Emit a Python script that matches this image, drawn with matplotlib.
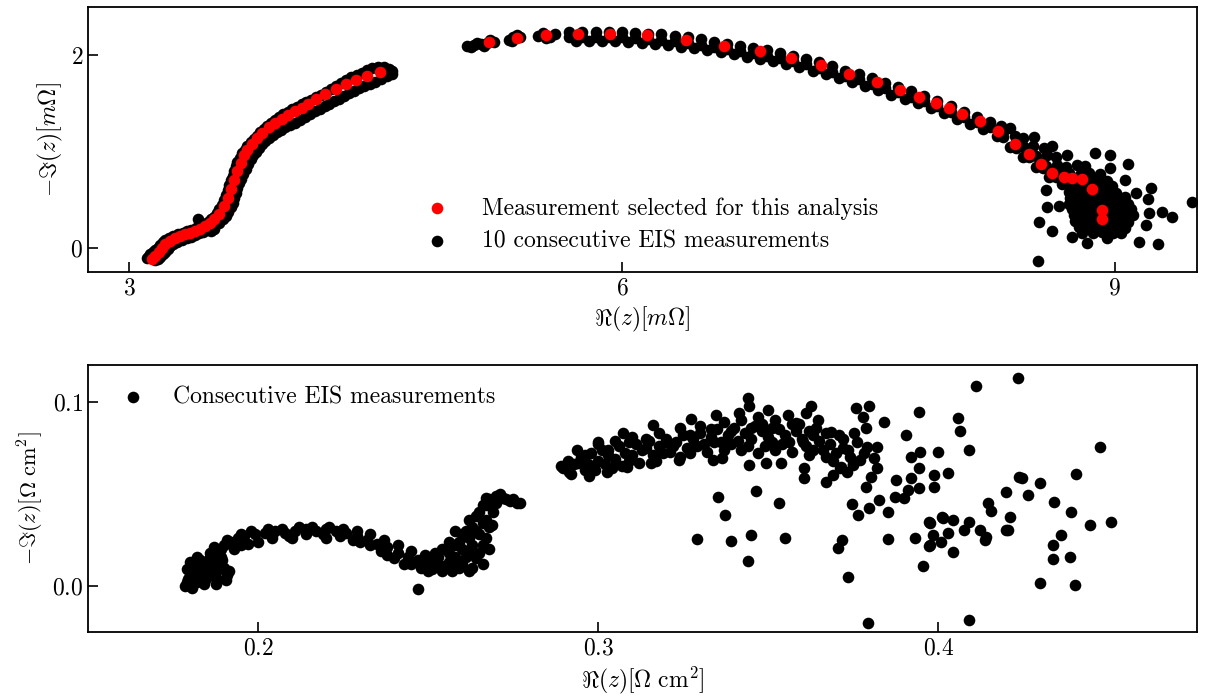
import numpy as np
import matplotlib
matplotlib.use("Agg")
import matplotlib.pyplot as plt
from matplotlib.ticker import MultipleLocator

plt.rcParams['font.family'] = 'serif'
plt.rcParams['font.serif'] = ['cmr10']
plt.rcParams['mathtext.fontset'] = 'cm'
plt.rcParams['axes.formatter.use_mathtext'] = True
plt.rcParams['font.size'] = 17

# top panel: selected measurement [mOhm]
sel_re = [3.14, 3.16, 3.18, 3.20, 3.22, 3.25, 3.28, 3.31, 3.34, 3.37, 3.40, 3.43, 3.46, 3.49,
          3.52, 3.55, 3.58, 3.60, 3.62, 3.64, 3.66, 3.68, 3.70, 3.72, 3.75, 3.78, 3.81, 3.85,
          3.89, 3.93, 3.97, 4.01, 4.05, 4.09, 4.14, 4.19, 4.26, 4.32, 4.38, 4.45, 4.53,
          5.19, 5.36, 5.54, 5.73, 5.93, 6.15, 6.39, 6.62, 6.84, 7.03, 7.21, 7.38, 7.55, 7.69,
          7.81, 7.91, 7.99, 8.07, 8.18, 8.29, 8.39, 8.48, 8.55, 8.62, 8.69, 8.74, 8.80, 8.86,
          8.92, 8.92]
sel_im = [-0.12, -0.08, -0.04, 0.00, 0.04, 0.07, 0.10, 0.12, 0.14, 0.16, 0.18, 0.20, 0.23, 0.26,
          0.30, 0.35, 0.44, 0.52, 0.61, 0.70, 0.80, 0.88, 0.96, 1.02, 1.08, 1.14, 1.19, 1.25,
          1.30, 1.34, 1.38, 1.42, 1.45, 1.49, 1.55, 1.60, 1.65, 1.70, 1.74, 1.78, 1.83,
          2.14, 2.18, 2.21, 2.22, 2.22, 2.21, 2.16, 2.10, 2.04, 1.97, 1.90, 1.80, 1.72, 1.64,
          1.57, 1.50, 1.45, 1.39, 1.32, 1.21, 1.08, 0.97, 0.87, 0.78, 0.74, 0.73, 0.72, 0.61,
          0.39, 0.30]

# top panel: 10 consecutive measurements [mOhm], low-frequency branch
low_re = [3.11, 3.13, 3.16, 3.19, 3.22, 3.27, 3.33, 3.38, 3.43, 3.48, 3.52, 3.55, 3.58, 3.60,
          3.62, 3.64, 3.66, 3.69, 3.72, 3.76, 3.80, 3.84, 3.89, 3.94, 3.99, 4.05, 4.11, 4.17,
          4.23, 4.29, 4.35, 4.42, 4.48, 4.55, 4.58,
          3.12, 3.145, 3.175, 3.205, 3.245, 3.30, 3.355, 3.405, 3.455, 3.50, 3.535, 3.565, 3.59,
          3.61, 3.63, 3.65, 3.675, 3.705, 3.74, 3.78, 3.82, 3.865, 3.915, 3.965, 4.02, 4.08,
          4.14, 4.20, 4.26, 4.32, 4.385, 4.45, 4.515, 4.60,
          3.16, 3.19, 3.22, 3.25, 3.29, 3.35, 3.40, 3.45, 3.50, 3.55, 3.59, 3.62, 3.64, 3.66,
          3.68, 3.71, 3.74, 3.77, 3.81, 3.85, 3.90, 3.95, 4.01, 4.07, 4.13, 4.19, 4.25, 4.31,
          4.37, 4.43, 4.50, 4.57, 4.58, 3.42, 3.50, 3.52,
          3.175, 3.205, 3.235, 3.27, 3.32, 3.375, 3.425, 3.475, 3.525, 3.57, 3.605, 3.63, 3.65,
          3.67, 3.695, 3.725, 3.755, 3.79, 3.83, 3.875, 3.925, 3.98, 4.04, 4.10, 4.16, 4.22,
          4.28, 4.34, 4.40, 4.465, 4.535, 4.60]
low_im = [-0.10, -0.06, -0.02, 0.03, 0.08, 0.12, 0.16, 0.19, 0.22, 0.27, 0.32, 0.40, 0.50, 0.60,
          0.70, 0.80, 0.89, 0.98, 1.06, 1.13, 1.20, 1.27, 1.33, 1.39, 1.44, 1.49, 1.54, 1.59,
          1.65, 1.71, 1.77, 1.82, 1.87, 1.88, 1.86,
          -0.08, -0.04, 0.00, 0.06, 0.10, 0.14, 0.175, 0.205, 0.245, 0.295, 0.36, 0.45, 0.55,
          0.65, 0.75, 0.845, 0.935, 1.02, 1.095, 1.165, 1.235, 1.30, 1.36, 1.415, 1.465, 1.515,
          1.565, 1.62, 1.68, 1.74, 1.795, 1.845, 1.875, 1.84,
          -0.13, -0.09, -0.04, 0.02, 0.06, 0.10, 0.13, 0.17, 0.21, 0.26, 0.33, 0.42, 0.52, 0.62,
          0.72, 0.82, 0.92, 1.00, 1.08, 1.14, 1.20, 1.25, 1.30, 1.36, 1.42, 1.47, 1.52, 1.58,
          1.63, 1.68, 1.72, 1.78, 1.82, 0.30, 0.18, 0.20,
          -0.11, -0.065, -0.01, 0.04, 0.08, 0.115, 0.15, 0.19, 0.235, 0.295, 0.375, 0.47, 0.57,
          0.67, 0.77, 0.87, 0.96, 1.04, 1.11, 1.17, 1.225, 1.275, 1.33, 1.39, 1.445, 1.495,
          1.55, 1.605, 1.655, 1.70, 1.75, 1.80]

# top panel: 10 consecutive measurements, high-frequency arc
arc_re = [5.06, 5.10, 5.14, 5.18, 5.22, 5.08, 5.16, 5.12, 5.20,
          5.31, 5.34, 5.38, 5.33, 5.36,
          5.49, 5.52, 5.56, 5.59, 5.54,
          5.68, 5.76, 5.84, 5.92, 6.00, 6.08, 6.16, 6.24, 6.32, 6.40, 6.48, 6.56, 6.64, 6.72,
          6.80, 6.88, 6.96, 7.04, 7.12, 7.20, 7.28, 7.36, 7.44, 7.52, 7.60, 7.68, 7.76, 7.84,
          7.92, 8.00, 8.08, 8.16, 8.24, 8.32, 8.40, 8.48, 8.56, 8.64,
          5.68, 5.76, 5.84, 5.92, 6.00, 6.08, 6.16, 6.24, 6.32, 6.40, 6.48, 6.56, 6.64, 6.72,
          6.80, 6.88, 6.96, 7.04, 7.12, 7.20, 7.28, 7.36, 7.44, 7.52, 7.60, 7.68, 7.76, 7.84,
          7.92, 8.00, 8.08, 8.16, 8.24, 8.32, 8.40, 8.48, 8.56, 8.64,
          5.72, 5.80, 5.88, 5.96, 6.04, 6.12, 6.20, 6.28, 6.36, 6.44, 6.52, 6.60, 6.68, 6.76,
          6.84, 6.92, 7.00, 7.08, 7.16, 7.24, 7.32, 7.40, 7.48, 7.56, 7.64, 7.72, 7.80, 7.88,
          7.96, 8.04, 8.12, 8.20, 8.28, 8.36, 8.44, 8.52, 8.60, 8.68]
arc_im = [2.10, 2.11, 2.12, 2.13, 2.14, 2.08, 2.10, 2.13, 2.16,
          2.16, 2.19, 2.19, 2.15, 2.21,
          2.20, 2.23, 2.19, 2.22, 2.18,
          2.245, 2.245, 2.245, 2.245, 2.245, 2.235, 2.225, 2.215, 2.20, 2.185, 2.165, 2.14, 2.12,
          2.095, 2.075, 2.05, 2.025, 1.995, 1.96, 1.925, 1.885, 1.84, 1.805, 1.76, 1.715, 1.67,
          1.625, 1.58, 1.525, 1.47, 1.41, 1.36, 1.305, 1.205, 1.095, 0.995, 0.885, 0.795,
          2.19, 2.19, 2.19, 2.19, 2.19, 2.18, 2.17, 2.16, 2.145, 2.13, 2.11, 2.085, 2.065,
          2.04, 2.02, 1.995, 1.97, 1.94, 1.905, 1.87, 1.83, 1.785, 1.75, 1.705, 1.66, 1.615,
          1.57, 1.525, 1.47, 1.415, 1.355, 1.305, 1.25, 1.15, 1.04, 0.94, 0.83, 0.74,
          2.145, 2.145, 2.145, 2.145, 2.14, 2.13, 2.12, 2.105, 2.09, 2.075, 2.05, 2.03, 2.01,
          1.985, 1.96, 1.935, 1.91, 1.875, 1.84, 1.805, 1.76, 1.72, 1.68, 1.635, 1.59, 1.545,
          1.50, 1.45, 1.395, 1.34, 1.285, 1.23, 1.16, 1.05, 0.945, 0.84, 0.74, 0.66]

# top panel: scattered end of the arc
blob_re = [8.31, 8.36, 8.39, 8.44, 8.51, 8.45, 8.50, 8.57, 8.62, 8.52, 8.59, 8.64, 8.71,
           8.58, 8.65, 8.70, 8.77, 8.82, 8.66, 8.72, 8.79, 8.84, 8.91,
           8.74, 8.79, 8.82, 8.87, 8.90, 8.95, 8.73, 8.77, 8.82, 8.85, 8.90, 8.93, 8.98,
           8.72, 8.76, 8.81, 8.84, 8.89, 8.92, 8.96, 9.01, 8.73, 8.78, 8.81, 8.86, 8.89, 8.94,
           8.97, 9.01, 9.06, 8.72, 8.77, 8.80, 8.85, 8.88, 8.92, 8.97, 9.00, 9.05, 9.08,
           8.74, 8.79, 8.82, 8.87, 8.90, 8.95, 8.98, 9.03, 9.06, 9.10,
           8.75, 8.80, 8.83, 8.88, 8.91, 8.96, 8.99, 9.04, 9.07, 9.11,
           8.76, 8.81, 8.84, 8.89, 8.92, 8.97, 9.00, 9.05, 9.08,
           8.78, 8.83, 8.86, 8.91, 8.94, 8.99, 9.02, 9.06, 8.80, 8.87, 8.92, 8.99, 9.04,
           8.53, 8.97, 9.08, 9.06, 9.13, 9.22, 9.20, 9.21, 9.29, 9.35, 9.47, 9.19, 9.15, 9.26,
           8.58, 8.59, 8.66, 8.54, 8.62, 8.74, 8.83, 8.95, 8.88, 8.97]
blob_im = [1.26, 1.24, 1.16, 1.14, 1.15, 1.05, 1.06, 1.04, 1.06, 0.95, 0.96, 0.94, 0.96,
           0.85, 0.86, 0.84, 0.86, 0.85, 0.77, 0.78, 0.76, 0.78, 0.77,
           0.70, 0.71, 0.69, 0.70, 0.71, 0.69, 0.64, 0.63, 0.65, 0.64, 0.63, 0.65, 0.64,
           0.58, 0.57, 0.59, 0.58, 0.57, 0.59, 0.58, 0.57, 0.52, 0.51, 0.53, 0.52, 0.51, 0.53,
           0.52, 0.51, 0.53, 0.46, 0.45, 0.47, 0.46, 0.45, 0.47, 0.46, 0.45, 0.47, 0.46,
           0.40, 0.41, 0.39, 0.40, 0.41, 0.39, 0.40, 0.41, 0.39, 0.40,
           0.34, 0.33, 0.35, 0.34, 0.33, 0.35, 0.34, 0.33, 0.35, 0.34,
           0.28, 0.29, 0.27, 0.28, 0.29, 0.27, 0.28, 0.29, 0.27,
           0.22, 0.21, 0.23, 0.22, 0.21, 0.23, 0.22, 0.21, 0.16, 0.15, 0.17, 0.16, 0.15,
           -0.14, 0.96, 0.87, 0.70, 0.57, 0.62, 0.51, 0.36, 0.37, 0.32, 0.48, 0.24, 0.06, 0.04,
           0.60, 0.42, 0.43, 0.27, 0.18, 0.11, 0.05, 0.10, 0.98, 0.83]

# bottom panel: consecutive measurements [Ohm cm2]
cons_re = [0.179, 0.180, 0.181, 0.182, 0.183, 0.184, 0.185, 0.186, 0.187, 0.188, 0.189, 0.190,
           0.191, 0.182, 0.184,
           0.1785, 0.1795, 0.1805, 0.1815, 0.1825, 0.1835, 0.1845, 0.1855, 0.1865, 0.1875,
           0.1885, 0.1895, 0.1905, 0.1915, 0.1800, 0.1820, 0.1790,
           0.186, 0.188, 0.190, 0.192, 0.194, 0.196, 0.199, 0.202, 0.205, 0.208, 0.211, 0.214,
           0.217, 0.220, 0.223, 0.226, 0.229, 0.232, 0.235, 0.238, 0.241, 0.244, 0.247, 0.250,
           0.253, 0.256, 0.258, 0.260, 0.262, 0.263, 0.264, 0.266, 0.268, 0.270, 0.272, 0.274,
           0.276,
           0.187, 0.191, 0.195, 0.198, 0.203, 0.207, 0.212, 0.216, 0.221, 0.225, 0.229, 0.233,
           0.237, 0.241, 0.245, 0.249, 0.253,
           0.189, 0.193, 0.197, 0.204, 0.209, 0.214, 0.219, 0.224, 0.228, 0.233, 0.236, 0.240,
           0.245, 0.251, 0.254,
           0.195, 0.200, 0.210, 0.220, 0.230, 0.238, 0.243, 0.248, 0.255, 0.260, 0.262, 0.259,
           0.261, 0.265, 0.266, 0.264, 0.257, 0.262, 0.267, 0.269, 0.2689, 0.2469,
           0.250, 0.252, 0.254, 0.256, 0.257, 0.258, 0.259, 0.260, 0.261, 0.262, 0.263, 0.263,
           0.264, 0.265, 0.265, 0.266, 0.266, 0.267, 0.267, 0.268, 0.268, 0.258, 0.256, 0.254,
           0.252,
           0.267, 0.269, 0.271, 0.273, 0.275, 0.277, 0.270,
           0.289, 0.291, 0.293, 0.295, 0.296, 0.298, 0.300, 0.301, 0.303, 0.304, 0.306, 0.308,
           0.309, 0.311, 0.313, 0.315, 0.316, 0.318, 0.320, 0.321, 0.323, 0.325, 0.326, 0.328,
           0.330, 0.331, 0.333, 0.335, 0.336, 0.338, 0.340, 0.341, 0.343, 0.345, 0.346, 0.348,
           0.350, 0.351, 0.353, 0.355, 0.356, 0.358, 0.360, 0.361, 0.363, 0.365, 0.366, 0.368,
           0.370, 0.372, 0.374, 0.375,
           0.292, 0.294, 0.297, 0.299, 0.302, 0.305, 0.307, 0.310, 0.312, 0.314, 0.317, 0.319,
           0.322, 0.324, 0.327, 0.329, 0.332, 0.334, 0.337, 0.339, 0.342, 0.344, 0.347, 0.349,
           0.352, 0.354, 0.357, 0.359, 0.362, 0.364, 0.367, 0.369, 0.371, 0.373, 0.300, 0.305,
           0.310, 0.318, 0.324, 0.330, 0.337, 0.342, 0.348, 0.352, 0.357, 0.362, 0.367, 0.372,
           0.376, 0.378,
           0.296, 0.303, 0.309, 0.314, 0.320, 0.327, 0.333, 0.339, 0.345, 0.351,
           0.2939, 0.2998, 0.3072, 0.3160, 0.3273, 0.3346, 0.3415, 0.3439, 0.3444, 0.3498,
           0.3469, 0.3557, 0.3611, 0.3626, 0.3645, 0.3581, 0.3684, 0.3709, 0.3758, 0.3795,
           0.3777, 0.3787, 0.3753, 0.3839, 0.3791, 0.3820, 0.3811, 0.3820, 0.3801, 0.3787,
           0.3768, 0.3733, 0.3748, 0.3713, 0.3689, 0.3670, 0.3606, 0.3606, 0.3630, 0.3601,
           0.3537, 0.3493, 0.3444, 0.3365, 0.3336, 0.3238, 0.3155, 0.3086, 0.3027, 0.2974,
           0.2915, 0.2895,
           0.3351, 0.3374, 0.3289, 0.3391, 0.3449, 0.3441, 0.3463, 0.3530, 0.3548, 0.3704,
           0.3717, 0.3733, 0.3793, 0.3746, 0.3763, 0.3797, 0.3826, 0.3851, 0.3851, 0.3875,
           0.3871, 0.3900, 0.3905, 0.3920, 0.3920, 0.3910, 0.3944, 0.3947, 0.3944, 0.3944,
           0.3932, 0.3954, 0.3974, 0.3974, 0.3998, 0.3988, 0.3988, 0.4013, 0.4008, 0.4027,
           0.4042, 0.4057, 0.4062, 0.4091, 0.4111, 0.4091, 0.4042, 0.4076, 0.4091, 0.4121,
           0.4140, 0.4145, 0.4199, 0.4204, 0.4209, 0.4233, 0.4238,
           0.4476, 0.4405, 0.4390, 0.4446, 0.4508, 0.4341, 0.4361, 0.4338, 0.4338, 0.4387,
           0.4299, 0.4400, 0.4299, 0.4246, 0.4263, 0.4155, 0.4138, 0.4011, 0.3972, 0.3983,
           0.3972, 0.4027, 0.4199]
cons_im = [0.002, 0.006, 0.010, 0.002, 0.014, 0.001, 0.005, 0.018, 0.008, 0.004, 0.020, 0.010,
           0.006, 0.008, 0.012,
           0.000, 0.004, -0.001, 0.006, 0.012, 0.007, 0.003, 0.010, 0.013, 0.001,
           0.009, 0.014, 0.003, 0.008, 0.013, 0.016, 0.009,
           0.016, 0.019, 0.022, 0.024, 0.026, 0.027, 0.028, 0.029, 0.030, 0.029, 0.030, 0.031,
           0.030, 0.031, 0.030, 0.029, 0.027, 0.025, 0.023, 0.021, 0.018, 0.016, 0.014, 0.013,
           0.012, 0.013, 0.016, 0.020, 0.026, 0.032, 0.038, 0.044, 0.047, 0.049, 0.048, 0.046,
           0.045,
           0.021, 0.025, 0.028, 0.030, 0.031, 0.031, 0.032, 0.032, 0.032, 0.031, 0.030, 0.028,
           0.025, 0.022, 0.019, 0.017, 0.016,
           0.016, 0.020, 0.023, 0.026, 0.027, 0.028, 0.028, 0.027, 0.025, 0.022, 0.019, 0.015,
           0.012, 0.009, 0.011,
           0.022, 0.024, 0.026, 0.026, 0.024, 0.017, 0.012, 0.010, 0.010, 0.012, 0.018, 0.024,
           0.030, 0.028, 0.022, 0.015, 0.008, 0.008, 0.036, 0.040, 0.033, -0.0018,
           0.008, 0.014, 0.008, 0.018, 0.012, 0.022, 0.010, 0.028, 0.016, 0.036, 0.022, 0.010,
           0.030, 0.018, 0.040, 0.034, 0.012, 0.026, 0.044, 0.020, 0.032, 0.030, 0.024, 0.020,
           0.018,
           0.048, 0.046, 0.050, 0.047, 0.047, 0.045, 0.045,
           0.065, 0.068, 0.066, 0.070, 0.063, 0.072, 0.068, 0.074, 0.071, 0.064, 0.076, 0.072,
           0.068, 0.077, 0.074, 0.079, 0.071, 0.076, 0.080, 0.073, 0.078, 0.082, 0.075, 0.080,
           0.083, 0.077, 0.081, 0.085, 0.078, 0.082, 0.086, 0.079, 0.083, 0.080, 0.087, 0.084,
           0.081, 0.078, 0.085, 0.082, 0.078, 0.084, 0.080, 0.076, 0.082, 0.079, 0.074, 0.077,
           0.072, 0.075, 0.070, 0.066,
           0.061, 0.067, 0.066, 0.063, 0.066, 0.069, 0.065, 0.071, 0.067, 0.075, 0.068, 0.072,
           0.076, 0.070, 0.072, 0.076, 0.073, 0.078, 0.074, 0.077, 0.074, 0.076, 0.072, 0.076,
           0.074, 0.077, 0.073, 0.088, 0.071, 0.086, 0.070, 0.068, 0.064, 0.062, 0.077, 0.079,
           0.081, 0.083, 0.086, 0.087, 0.089, 0.090, 0.088, 0.090, 0.088, 0.084, 0.083, 0.080,
           0.078, 0.072,
           0.071, 0.074, 0.078, 0.080, 0.078, 0.082, 0.085, 0.084, 0.086, 0.086,
           0.0739, 0.0784, 0.0830, 0.0875, 0.0906, 0.0929, 0.0938, 0.1020, 0.0975, 0.0957,
           0.0920, 0.0929, 0.0938, 0.0978, 0.0902, 0.0884, 0.0839, 0.0821, 0.0966, 0.0975,
           0.0920, 0.0857, 0.0830, 0.0888, 0.0754, 0.0757, 0.0694, 0.0640, 0.0594, 0.0540,
           0.0685, 0.0739, 0.0658, 0.0648, 0.0603, 0.0567, 0.0585, 0.0640, 0.0739, 0.0784,
           0.0667, 0.0667, 0.0658, 0.0694, 0.0685, 0.0685, 0.0667, 0.0648, 0.0621, 0.0598,
           0.0621, 0.0639,
           0.0485, 0.0386, 0.0254, 0.0246, 0.0277, 0.0136, 0.0518, 0.0453, 0.0259, 0.0205,
           0.0250, 0.0051, -0.0199, 0.0446, 0.0386, 0.0422, 0.0467, 0.0404, 0.0255, 0.0576,
           0.0485, 0.0476, 0.0821, 0.0703, 0.0585, 0.0522, 0.0947, 0.0730, 0.0640, 0.0531,
           0.0259, 0.0110, 0.0341, 0.0223, 0.0730, 0.0603, 0.0540, 0.0368, 0.0241, 0.0612,
           0.0186, 0.0915, 0.0842, 0.0739, 0.1087, -0.0185, 0.0359, 0.0304, 0.0350, 0.0304,
           0.0268, 0.0449, 0.0513, 0.0304, 0.0377, 0.1129, 0.0594,
           0.0754, 0.0607, 0.0400, 0.0332, 0.0349, 0.0458, 0.0277, 0.0223, 0.0145, 0.0159,
           0.0015, 0.0005, 0.0558, 0.0589, 0.0495, 0.0409, 0.0250, 0.0373, 0.0349, 0.0277,
           0.0217, 0.0290, 0.0304]

all_re = low_re + arc_re + blob_re
all_im = low_im + arc_im + blob_im

fig = plt.figure(figsize=(12.13, 7.0), dpi=100)
ax1 = fig.add_axes([0.0725, 0.6114, 0.9143, 0.3786])
ax2 = fig.add_axes([0.0725, 0.0971, 0.9143, 0.3814])

ax1.scatter(all_re, all_im, s=70, color='black', linewidths=0, label='10 consecutive EIS measurements', zorder=2)
ax1.scatter(sel_re, sel_im, s=70, color='red', linewidths=0, label='Measurement selected for this analysis', zorder=3)
ax1.set_xlim(2.75, 9.5)
ax1.set_ylim(-0.25, 2.5)
ax1.xaxis.set_major_locator(MultipleLocator(3))
ax1.yaxis.set_major_locator(MultipleLocator(2))
ax1.set_xlabel(r'$\Re(z) [m\Omega]$')
ax1.set_ylabel(r'$-\Im(z) [m\Omega]$')
h, l = ax1.get_legend_handles_labels()
ax1.legend(h[::-1], l[::-1], loc='lower left', bbox_to_anchor=(0.274, -0.006), frameon=False,
           handletextpad=0.9, labelspacing=0.45)

ax2.scatter(cons_re, cons_im, s=70, color='black', linewidths=0, label='Consecutive EIS measurements')
ax2.set_xlim(0.15, 0.476)
ax2.set_ylim(-0.025, 0.12)
ax2.xaxis.set_major_locator(MultipleLocator(0.1))
ax2.yaxis.set_major_locator(MultipleLocator(0.1))
ax2.set_xlabel(r'$\Re(z) [\Omega\ \mathrm{cm}^2]$')
ax2.set_ylabel(r'$-\Im(z) [\Omega\ \mathrm{cm}^2]$', fontsize=16)
ax2.legend(loc='upper left', frameon=False, handletextpad=0.7)

for ax in (ax1, ax2):
    ax.tick_params(direction='in', length=7, width=1.2, top=False, right=False)
    for sp in ax.spines.values():
        sp.set_linewidth(1.3)

fig.savefig('out.png', dpi=100)
